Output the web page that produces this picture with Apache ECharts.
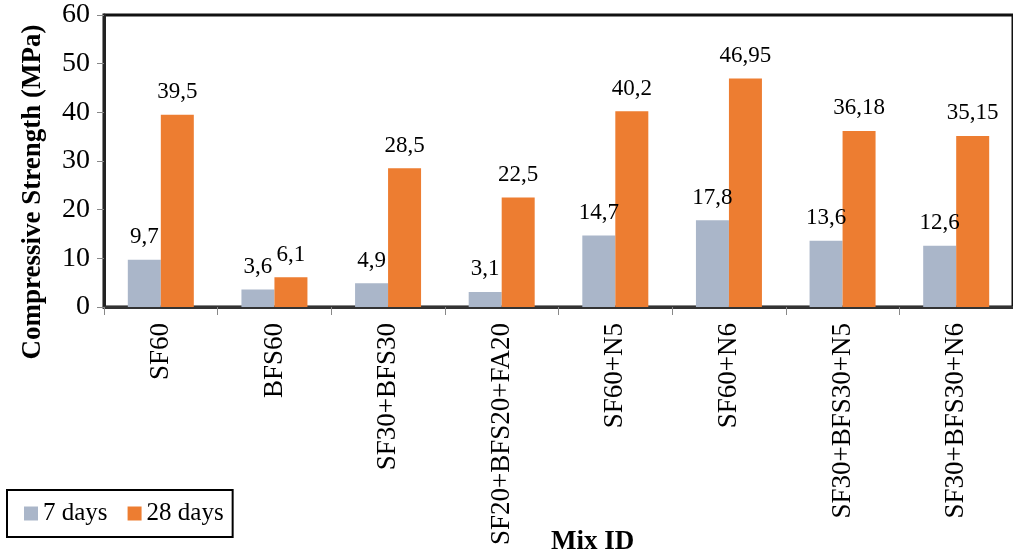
<!DOCTYPE html>
<html><head><meta charset="utf-8">
<script src="https://cdn.jsdelivr.net/npm/echarts@6/dist/echarts.min.js"></script>
<style>html,body{margin:0;padding:0;background:#fff;overflow:hidden}#c{width:1013px;height:560px}</style>
</head><body><div id="c"></div>
<script>
const categories = ['SF60','BFS60','SF30+BFS30','SF20+BFS20+FA20','SF60+N5','SF60+N6','SF30+BFS30+N5','SF30+BFS30+N6'];
const days7 = [9.7, 3.6, 4.9, 3.1, 14.7, 17.8, 13.6, 12.6];
const days28 = [39.5, 6.1, 28.5, 22.5, 40.2, 46.95, 36.18, 35.15];
const seriesNames = ['7 days', '28 days'];
const F = '"Liberation Serif", "Times New Roman", serif';
const fmt = p => String(p.value).replace('.', ',');
const chart = echarts.init(document.getElementById('c'));
chart.setOption({
  animation: false,
  textStyle: {fontFamily: F},
  grid: {left: 104, width: 918, top: 15, bottom: 253, show: true, borderColor: '#111', borderWidth: 3, backgroundColor: 'transparent'},
  legend: {
    left: 7, top: 490, orient: 'horizontal', icon: 'rect', itemWidth: 14, itemHeight: 14, itemGap: 20,
    borderColor: '#000', borderWidth: 2, padding: [11, 9, 11, 17],
    textStyle: {fontFamily: F, fontSize: 25, color: '#000'},
    data: seriesNames
  },
  xAxis: {
    type: 'category', data: categories,
    axisLine: {lineStyle: {color: '#333', width: 3}},
    axisTick: {show: true, length: 8, lineStyle: {color: '#888'}},
    axisLabel: {rotate: 90, fontFamily: F, fontSize: 27, color: '#000', margin: 16}
  },
  yAxis: {
    type: 'value', min: 0, max: 60, interval: 10,
    axisLine: {show: true, lineStyle: {color: '#222', width: 3}},
    axisTick: {show: true, length: 7, lineStyle: {color: '#888'}},
    splitLine: {show: false},
    axisLabel: {fontFamily: F, fontSize: 28, color: '#000', margin: 14}
  },
  graphic: [
    {type: 'text', x: 33, y: 192, rotation: Math.PI / 2,
     style: {text: 'Compressive Strength (MPa)', font: 'bold 27px ' + F, fill: '#000', align: 'center', verticalAlign: 'middle'}},
    {type: 'text', left: 551, top: 529, style: {text: 'Mix ID', font: 'bold 27px ' + F, fill: '#000'}}
  ],
  series: [
    {name: seriesNames[0], type: 'bar', data: days7, barWidth: 33, barGap: '0%',
     itemStyle: {color: '#AAB6C9'},
     label: {show: true, position: 'top', distance: 11, formatter: fmt, fontFamily: F, fontSize: 23, color: '#000'}},
    {name: seriesNames[1], type: 'bar', data: days28, barWidth: 33,
     itemStyle: {color: '#ED7D31'},
     label: {show: true, position: 'top', distance: 11, formatter: fmt, fontFamily: F, fontSize: 23, color: '#000'}}
  ]
});
</script></body></html>
